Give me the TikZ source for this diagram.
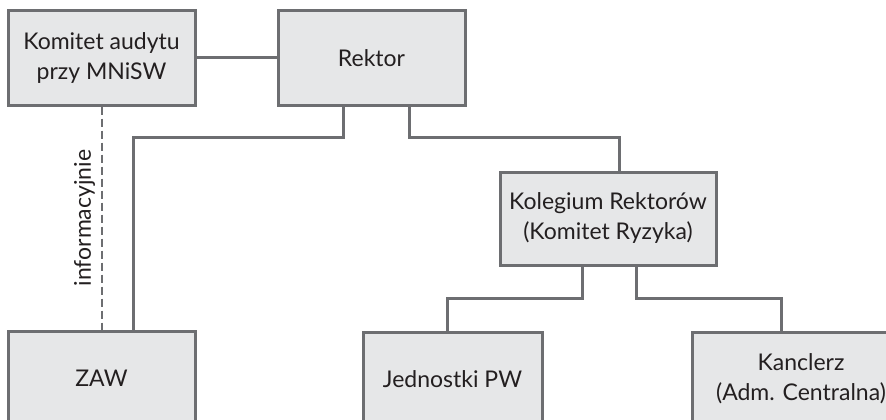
\documentclass[tikz,border=0pt]{standalone}
\usepackage{fontspec}
\setmainfont{Lato}
\definecolor{edge}{HTML}{6D6E71}
\definecolor{boxfill}{HTML}{E6E7E8}
\definecolor{ink}{HTML}{231F20}
\begin{document}
\begin{tikzpicture}[x=1pt,y=-1pt,
  orgbox/.style={draw=edge, fill=boxfill, line width=3pt, rectangle,
    align=center, text=ink, font=\fontsize{23}{30}\selectfont, inner sep=0pt},
  link/.style={draw=edge, line width=3pt},
  infolink/.style={draw=edge, line width=2pt, dash pattern=on 8pt off 4pt}]
\clip (0,0) rectangle (886,420);
\fill[white] (0,0) rectangle (886,420);
\node[orgbox, minimum width=187pt, minimum height=94pt] (kom) at (101.5,58) {Komitet audytu\\przy MNiSW};
\node[orgbox, minimum width=187pt, minimum height=94pt] (rek) at (371.5,58) {Rektor};
\node[orgbox, minimum width=216pt, minimum height=93pt] (kol) at (608,218.5) {Kolegium Rektorów\\(Komitet Ryzyka)};
\node[orgbox, minimum width=187pt, minimum height=94pt] (zaw) at (101.5,378) {ZAW};
\node[orgbox, minimum width=179pt, minimum height=94pt] (jed) at (452.5,379) {Jednostki PW};
\node[orgbox, minimum width=218pt, minimum height=94pt] (kan) at (801,379) {Kanclerz\\(Adm. Centralna)};
\draw[link] (kom.east) -- (rek.west);
\draw[link] ([xshift=-28.5pt]rek.south) -- ++(0,31) -| ([xshift=31.5pt]zaw.north);
\draw[link] ([xshift=37.5pt]rek.south) -- ++(0,31) -| ([xshift=11pt]kol.north);
\draw[link] ([xshift=-26pt]kol.south) -- ++(0,32) -| ([xshift=-5.5pt]jed.north);
\draw[link] ([xshift=28pt]kol.south) -- ++(0,32) -| ([xshift=-20pt]kan.north);
\draw[infolink] (kom.south) -- node[pos=0.5, rotate=90, above=2pt, text=ink, font=\fontsize{23}{26}\selectfont] (lbl) {informacyjnie} (zaw.north);
\end{tikzpicture}
\end{document}
